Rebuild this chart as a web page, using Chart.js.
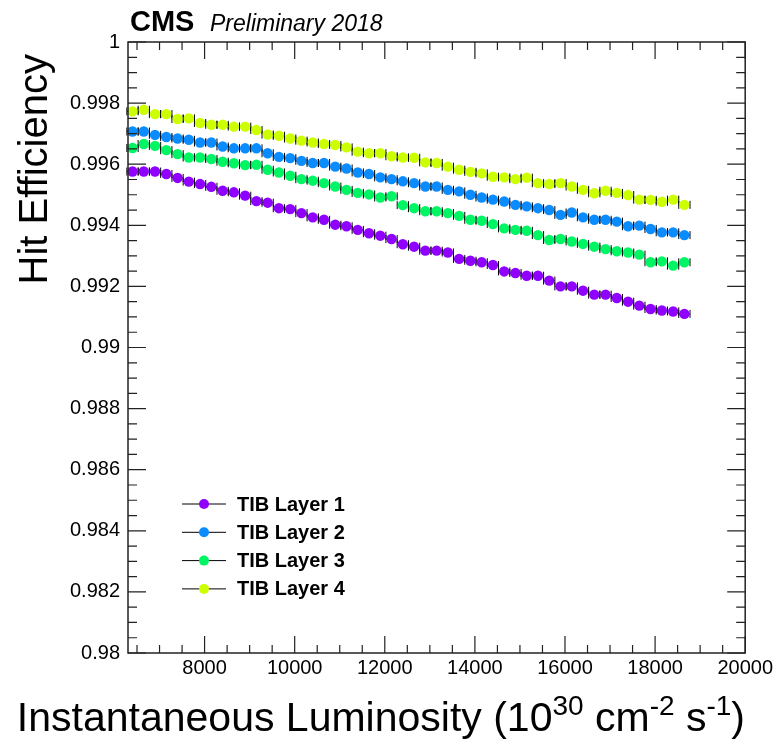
<!DOCTYPE html>
<html>
<head>
<meta charset="utf-8">
<script src="https://cdn.jsdelivr.net/npm/chart.js@4/dist/chart.umd.min.js"></script>
<style>
  body { margin: 0; background: #fff; }
  canvas { display: block; }
</style>
</head>
<body>
<canvas id="chart" width="776" height="739"></canvas>
<script>
// bin centres, instantaneous luminosity (1e30 cm-2 s-1)
const lumi = [6400, 6650, 6900, 7150, 7400, 7650, 7900, 8150, 8400, 8650,
  8900, 9150, 9400, 9650, 9900, 10150, 10400, 10650, 10900, 11150,
  11400, 11650, 11900, 12150, 12400, 12650, 12900, 13150, 13400, 13650,
  13900, 14150, 14400, 14650, 14900, 15150, 15400, 15650, 15900, 16150,
  16400, 16650, 16900, 17150, 17400, 17650, 17900, 18150, 18400, 18650];
const halfBin = 125;

const layer1 = [0.99576, 0.99576, 0.99576, 0.99568, 0.99555, 0.99543, 0.99535, 0.99526, 0.99513, 0.99508,
  0.99497, 0.99479, 0.99474, 0.99456, 0.99453, 0.99440, 0.99426, 0.99418, 0.99402, 0.99397,
  0.99385, 0.99374, 0.99366, 0.99355, 0.99338, 0.99330, 0.99317, 0.99317, 0.99311, 0.99290,
  0.99284, 0.99279, 0.99270, 0.99249, 0.99244, 0.99235, 0.99235, 0.99219, 0.99200, 0.99200,
  0.99186, 0.99173, 0.99173, 0.99162, 0.99150, 0.99137, 0.99126, 0.99121, 0.99118, 0.99110];
const layer2 = [0.99707, 0.99707, 0.99696, 0.99689, 0.99684, 0.99680, 0.99671, 0.99671, 0.99658, 0.99652,
  0.99652, 0.99652, 0.99636, 0.99624, 0.99620, 0.99611, 0.99604, 0.99604, 0.99592, 0.99586,
  0.99573, 0.99568, 0.99557, 0.99551, 0.99544, 0.99538, 0.99527, 0.99527, 0.99516, 0.99511,
  0.99500, 0.99491, 0.99484, 0.99478, 0.99467, 0.99462, 0.99456, 0.99450, 0.99434, 0.99442,
  0.99426, 0.99418, 0.99418, 0.99412, 0.99397, 0.99399, 0.99388, 0.99377, 0.99377, 0.99368];
const layer3 = [0.99653, 0.99666, 0.99660, 0.99646, 0.99633, 0.99622, 0.99622, 0.99617, 0.99608, 0.99603,
  0.99597, 0.99598, 0.99582, 0.99573, 0.99562, 0.99551, 0.99546, 0.99538, 0.99527, 0.99516,
  0.99506, 0.99501, 0.99491, 0.99495, 0.99466, 0.99456, 0.99446, 0.99446, 0.99440, 0.99431,
  0.99418, 0.99415, 0.99404, 0.99390, 0.99385, 0.99382, 0.99368, 0.99352, 0.99355, 0.99347,
  0.99339, 0.99330, 0.99322, 0.99315, 0.99311, 0.99304, 0.99279, 0.99282, 0.99268, 0.99279];
const layer4 = [0.99773, 0.99778, 0.99764, 0.99764, 0.99748, 0.99750, 0.99735, 0.99729, 0.99729, 0.99723,
  0.99723, 0.99712, 0.99697, 0.99693, 0.99684, 0.99677, 0.99671, 0.99666, 0.99663, 0.99655,
  0.99641, 0.99636, 0.99636, 0.99626, 0.99622, 0.99621, 0.99606, 0.99604, 0.99592, 0.99582,
  0.99575, 0.99570, 0.99559, 0.99557, 0.99551, 0.99556, 0.99538, 0.99535, 0.99538, 0.99527,
  0.99516, 0.99505, 0.99513, 0.99506, 0.99499, 0.99484, 0.99483, 0.99477, 0.99484, 0.99467];

const seriesNames = ["TIB Layer 1", "TIB Layer 2", "TIB Layer 3", "TIB Layer 4"];
const seriesColors = ["#8f00ff", "#0a8cff", "#00f564", "#ccff00"];

const xTicks = [8000, 10000, 12000, 14000, 16000, 18000, 20000];
const xMinorTicks = [6500, 7000, 7500, 8500, 9000, 9500, 10500, 11000, 11500, 12500, 13000, 13500,
  14500, 15000, 15500, 16500, 17000, 17500, 18500, 19000, 19500];
const yTicks = [0.98, 0.982, 0.984, 0.986, 0.988, 0.99, 0.992, 0.994, 0.996, 0.998, 1];
const yMinorStep = 0.0005;

const FONT = '"Liberation Sans", Arial, Helvetica, sans-serif';

// ROOT-like frame, ticks, titles, legend and x error bars
const rootStyle = {
  id: "rootStyle",
  beforeDatasetsDraw(chart) {
    const ctx = chart.ctx;
    const xs = chart.scales.x, ys = chart.scales.y;
    ctx.save();
    ctx.strokeStyle = "#000";
    ctx.lineWidth = 1;
    chart.data.datasets.forEach((ds) => {
      ds.data.forEach((p) => {
        const x1 = xs.getPixelForValue(p.x - halfBin);
        const x2 = xs.getPixelForValue(p.x + halfBin);
        const y = ys.getPixelForValue(p.y);
        ctx.beginPath();
        ctx.moveTo(x1, y); ctx.lineTo(x2, y);
        ctx.moveTo(x1, y - 4); ctx.lineTo(x1, y + 4);
        ctx.moveTo(x2, y - 4); ctx.lineTo(x2, y + 4);
        ctx.stroke();
      });
    });
    ctx.restore();
  },
  afterDraw(chart) {
    const ctx = chart.ctx;
    const a = chart.chartArea;
    const xs = chart.scales.x, ys = chart.scales.y;
    ctx.save();

    // frame
    ctx.strokeStyle = "#222";
    ctx.lineWidth = 1.5;
    ctx.strokeRect(a.left, a.top, a.right - a.left, a.bottom - a.top);

    // ticks on all four sides
    ctx.lineWidth = 1.2;
    ctx.beginPath();
    const xt = (v, len) => {
      const px = xs.getPixelForValue(v);
      ctx.moveTo(px, a.bottom); ctx.lineTo(px, a.bottom - len);
      ctx.moveTo(px, a.top); ctx.lineTo(px, a.top + len);
    };
    xTicks.forEach((v) => xt(v, 17));
    xMinorTicks.forEach((v) => xt(v, 8));
    const yt = (v, len) => {
      const py = ys.getPixelForValue(v);
      ctx.moveTo(a.left, py); ctx.lineTo(a.left + len, py);
      ctx.moveTo(a.right, py); ctx.lineTo(a.right - len, py);
    };
    yTicks.forEach((v, i) => {
      yt(v, 18);
      if (i < yTicks.length - 1) {
        for (let k = 1; k < 4; k++) yt(v + k * yMinorStep, 9);
      }
    });
    ctx.stroke();

    ctx.fillStyle = "#000";
    // CMS label
    ctx.textBaseline = "alphabetic";
    ctx.textAlign = "left";
    ctx.font = "bold 29px " + FONT;
    ctx.fillText("CMS", 130, 31);
    ctx.font = "italic 23px " + FONT;
    ctx.fillText("Preliminary 2018", 210, 31);

    // y title
    ctx.save();
    ctx.translate(47, 54);
    ctx.rotate(-Math.PI / 2);
    ctx.textAlign = "right";
    ctx.font = "40px " + FONT;
    ctx.fillText("Hit Efficiency", 0, 0);
    ctx.restore();

    // x title with superscripts, right aligned at the axis end
    const big = "41px " + FONT, small = "28px " + FONT;
    const parts = [
      ["Instantaneous Luminosity (10", big, 0],
      ["30", small, -16],
      [" cm", big, 0],
      ["-2", small, -16],
      [" s", big, 0],
      ["-1", small, -16],
      [")", big, 0]
    ];
    let total = 0;
    parts.forEach((p) => { ctx.font = p[1]; total += ctx.measureText(p[0]).width; });
    let cx = 745 - total;
    const base = 731;
    parts.forEach((p) => {
      ctx.font = p[1];
      ctx.fillText(p[0], cx, base + p[2]);
      cx += ctx.measureText(p[0]).width;
    });

    // legend
    ctx.font = "bold 20px " + FONT;
    ctx.textBaseline = "middle";
    chart.data.datasets.forEach((ds, i) => {
      const ly = 504 + i * 28.3;
      ctx.strokeStyle = "#000";
      ctx.lineWidth = 1;
      ctx.beginPath();
      ctx.moveTo(182, ly); ctx.lineTo(226, ly);
      ctx.stroke();
      ctx.fillStyle = ds.backgroundColor;
      ctx.beginPath();
      ctx.arc(204, ly, 5, 0, Math.PI * 2);
      ctx.fill();
      ctx.fillStyle = "#000";
      ctx.fillText(ds.label, 237, ly + 1);
    });

    ctx.restore();
  }
};

const layers = [layer1, layer2, layer3, layer4];
const datasets = layers.map((vals, i) => ({
  label: seriesNames[i],
  data: vals.map((v, k) => ({ x: lumi[k], y: v })),
  backgroundColor: seriesColors[i],
  borderWidth: 0,
  pointRadius: 5.2,
  pointHoverRadius: 5.2,
  showLine: false
}));

new Chart(document.getElementById("chart").getContext("2d"), {
  type: "scatter",
  data: { datasets },
  options: {
    responsive: false,
    animation: false,
    events: [],
    layout: { padding: { top: 42, right: 29, left: 0, bottom: 0 } },
    plugins: { legend: { display: false }, tooltip: { enabled: false } },
    scales: {
      x: {
        type: "linear",
        min: 6300,
        max: 20000,
        grid: { display: false, drawTicks: false },
        border: { display: false },
        afterBuildTicks: (scale) => { scale.ticks = xTicks.map((v) => ({ value: v })); },
        afterFit: (scale) => { scale.height = 86; },
        ticks: {
          color: "#000",
          font: { family: FONT, size: 20 },
          padding: 3,
          maxRotation: 0,
          autoSkip: false,
          callback: (v) => String(v)
        }
      },
      y: {
        type: "linear",
        min: 0.98,
        max: 1,
        grid: { display: false, drawTicks: false },
        border: { display: false },
        afterBuildTicks: (scale) => { scale.ticks = yTicks.map((v) => ({ value: v })); },
        afterFit: (scale) => { scale.width = 128; },
        ticks: {
          color: "#000",
          font: { family: FONT, size: 20 },
          padding: 8,
          autoSkip: false,
          callback: (v) => String(Number(v.toFixed(3)))
        }
      }
    }
  },
  plugins: [rootStyle]
});
</script>
</body>
</html>
